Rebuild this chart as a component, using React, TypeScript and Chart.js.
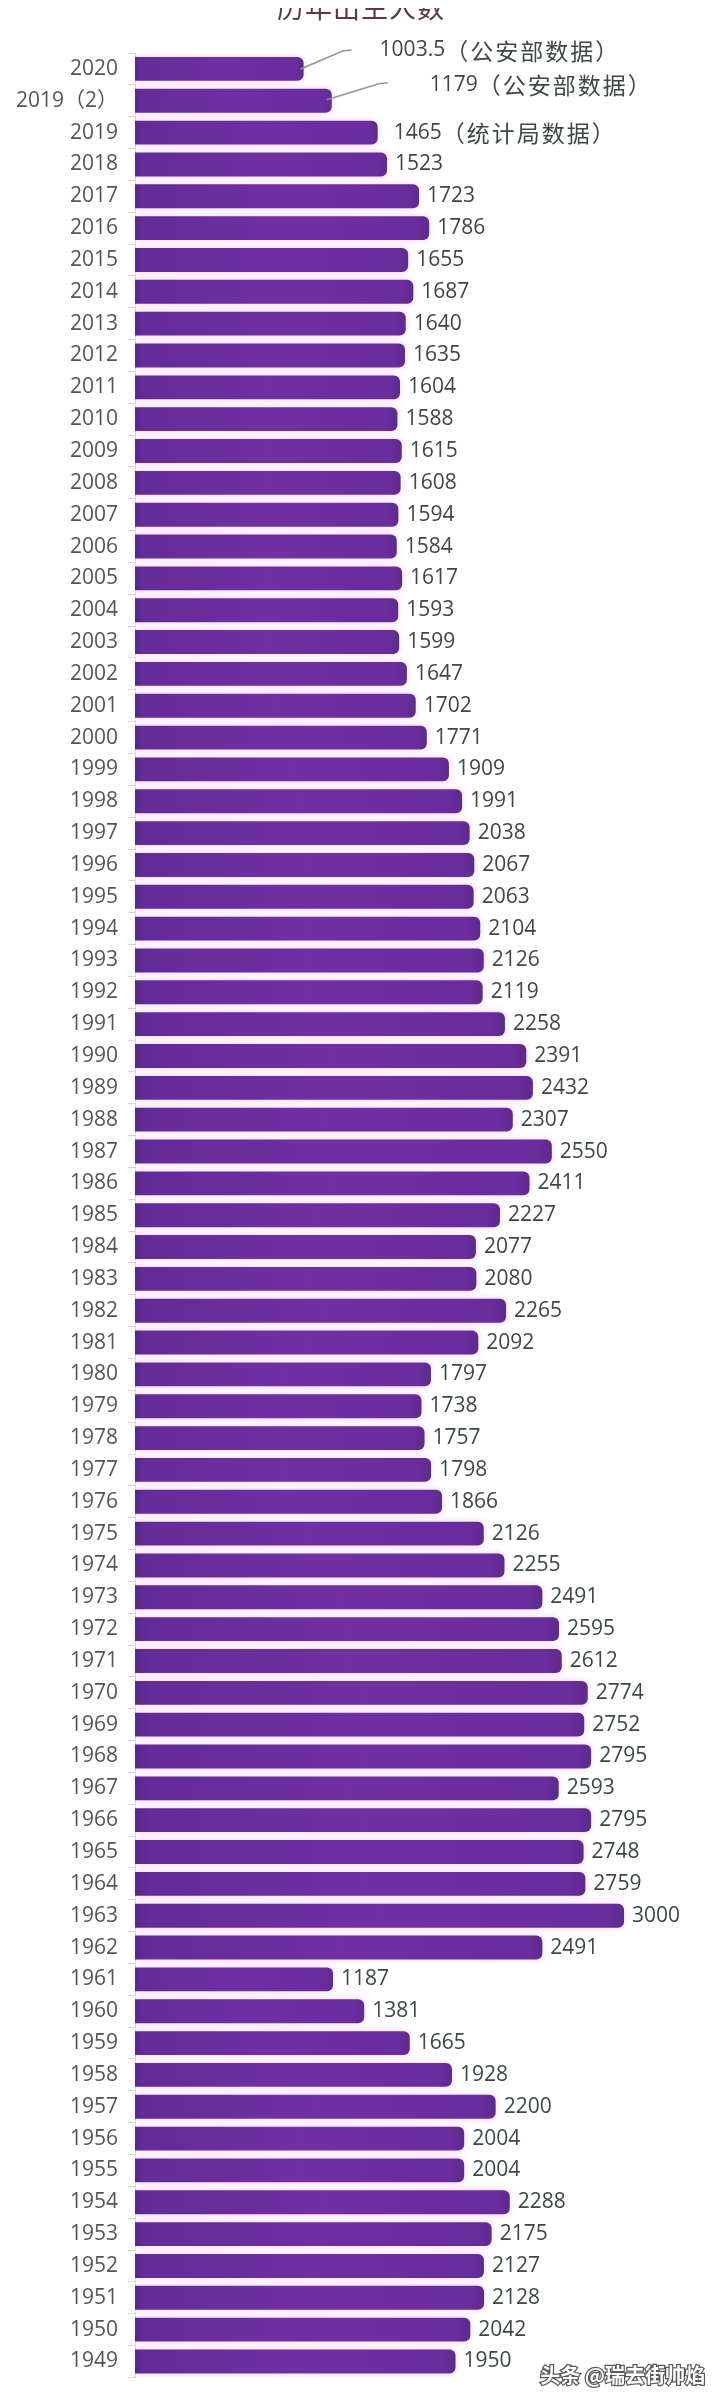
import React, { useEffect, useRef } from "react";
import { Chart, registerables } from "chart.js";

Chart.register(...registerables);

const titleText = "历年出生人数";
const watermark = "头条 @瑞去街帅焰";

const years = [
  "2020", "2019（2）", "2019", "2018", "2017", "2016", "2015", "2014", "2013", "2012",
  "2011", "2010", "2009", "2008", "2007", "2006", "2005", "2004", "2003", "2002",
  "2001", "2000", "1999", "1998", "1997", "1996", "1995", "1994", "1993", "1992",
  "1991", "1990", "1989", "1988", "1987", "1986", "1985", "1984", "1983", "1982",
  "1981", "1980", "1979", "1978", "1977", "1976", "1975", "1974", "1973", "1972",
  "1971", "1970", "1969", "1968", "1967", "1966", "1965", "1964", "1963", "1962",
  "1961", "1960", "1959", "1958", "1957", "1956", "1955", "1954", "1953", "1952",
  "1951", "1950", "1949",
];

const births = [
  1003.5, 1179, 1465, 1523, 1723, 1786, 1655, 1687, 1640, 1635,
  1604, 1588, 1615, 1608, 1594, 1584, 1617, 1593, 1599, 1647,
  1702, 1771, 1909, 1991, 2038, 2067, 2063, 2104, 2126, 2119,
  2258, 2391, 2432, 2307, 2550, 2411, 2227, 2077, 2080, 2265,
  2092, 1797, 1738, 1757, 1798, 1866, 2126, 2255, 2491, 2595,
  2612, 2774, 2752, 2795, 2593, 2795, 2748, 2759, 3000, 2491,
  1187, 1381, 1665, 1928, 2200, 2004, 2004, 2288, 2175, 2127,
  2128, 2042, 1950,
];

const notes = ["（公安部数据）", "（公安部数据）", "（统计局数据）"];

const NUM_FONT = '21px "Open Sans", "Noto Sans CJK SC", sans-serif';
const CJK_FONT = '23px "Noto Sans CJK SC", sans-serif';

const decorPlugin = {
  id: "decor",
  beforeDatasetsDraw(chart: any) {
    const c = chart.ctx;
    c.save();
    c.shadowColor = "rgba(238,170,238,0.6)";
    c.shadowBlur = 7;
  },
  afterDatasetsDraw(chart: any) {
    const c = chart.ctx;
    c.restore();
    const meta = chart.getDatasetMeta(0);
    c.save();
    c.textBaseline = "middle";
    c.textAlign = "left";
    meta.data.forEach((bar: any, i: number) => {
      const v = births[i];
      const txt = String(v);
      let tx = bar.x + 8;
      let ty = bar.y;
      if (i === 0 || i === 1) {
        const pts =
          i === 0
            ? [[-3, 0], [39, -18], [48, -19]]
            : [[-5, -1], [47, -17], [56, -18]];
        c.strokeStyle = "#8f9696";
        c.lineWidth = 1.6;
        c.beginPath();
        pts.forEach((p, k) => {
          if (k === 0) c.moveTo(bar.x + p[0], bar.y + p[1]);
          else c.lineTo(bar.x + p[0], bar.y + p[1]);
        });
        c.stroke();
        tx = i === 0 ? bar.x + 76 : bar.x + 98;
        ty = i === 0 ? bar.y - 19 : bar.y - 16;
      } else if (i === 2) {
        tx = bar.x + 16;
      }
      c.fillStyle = "#3e4747";
      c.font = NUM_FONT;
      c.fillText(txt, tx, ty);
      const note = notes[i];
      if (note) {
        const w = c.measureText(txt).width;
        c.font = CJK_FONT;
        (c as any).letterSpacing = "2px";
        c.fillText(note, tx + w, ty + 1);
        (c as any).letterSpacing = "0px";
      }
    });
    c.restore();
  },
  afterDraw(chart: any) {
    const c = chart.ctx;
    c.save();
    // title
    c.fillStyle = "#5a3a3c";
    c.font = '27px "Noto Sans CJK SC", sans-serif';
    c.textAlign = "center";
    c.textBaseline = "alphabetic";
    (c as any).letterSpacing = "1px";
    c.fillText(titleText, 361, 18);
    (c as any).letterSpacing = "0px";
    // frame edges
    c.fillStyle = "#d2d2d2";
    c.fillRect(0, 0, 2, chart.height);
    c.fillRect(chart.width - 3, 0, 3, chart.height);
    // watermark
    c.font = 'bold 20px "Noto Sans CJK SC", sans-serif';
    c.textAlign = "right";
    c.textBaseline = "middle";
    c.lineWidth = 2.5;
    c.strokeStyle = "rgba(60,60,60,0.85)";
    c.strokeText(watermark, 705, 2375);
    c.fillStyle = "#ffffff";
    c.fillText(watermark, 705, 2375);
    c.restore();
  },
};

function barFill(ctx: any) {
  const chart = ctx.chart;
  const area = chart.chartArea;
  const xs = chart.scales && chart.scales.x;
  if (!area || !xs || ctx.raw === undefined) return "#6a2d9e";
  const left = area.left;
  const right = xs.getPixelForValue(ctx.raw);
  if (!(right > left + 2)) return "#6a2d9e";
  const g = chart.ctx.createLinearGradient(left, 0, right, 0);
  g.addColorStop(0, "#552a86");
  g.addColorStop(0.03, "#642c98");
  g.addColorStop(0.5, "#7030a2");
  g.addColorStop(0.96, "#6a2d9d");
  g.addColorStop(1, "#5e2a8f");
  return g;
}

export default function App() {
  const ref = useRef<HTMLCanvasElement | null>(null);
  useEffect(() => {
    if (!ref.current) return;
    const chart = new Chart(ref.current, {
      type: "bar",
      data: {
        labels: years,
        datasets: [
          {
            data: births,
            base: -47,
            backgroundColor: barFill,
            borderRadius: 6,
            borderSkipped: "start",
            barPercentage: 0.75,
            categoryPercentage: 1,
          } as any,
        ],
      },
      options: {
        indexAxis: "y",
        responsive: false,
        animation: false,
        layout: { padding: { top: 53, bottom: 11, left: 0, right: 10 } },
        plugins: {
          legend: { display: false },
          tooltip: { enabled: false },
          title: { display: false },
        },
        scales: {
          x: { display: false, min: -47, max: 3548 },
          y: {
            afterFit: (s: any) => {
              s.width = 135;
            },
            border: { display: true, color: "#d9d9d9", width: 1 },
            grid: {
              display: true,
              drawOnChartArea: false,
              drawTicks: true,
              tickLength: 7,
              color: "#d6d6d6",
              offset: true,
            },
            ticks: {
              color: "#555555",
              font: { family: '"Open Sans", "Noto Sans CJK SC", sans-serif', size: 21 },
              padding: 10,
              autoSkip: false,
            },
          },
        },
      },
      plugins: [decorPlugin],
    });
    return () => chart.destroy();
  }, []);
  return (
    <div style={{ margin: "-8px 0 0 -8px", width: 722, height: 2400, background: "#ffffff" }}>
      <canvas ref={ref} width={722} height={2400} style={{ display: "block" }} />
    </div>
  );
}
